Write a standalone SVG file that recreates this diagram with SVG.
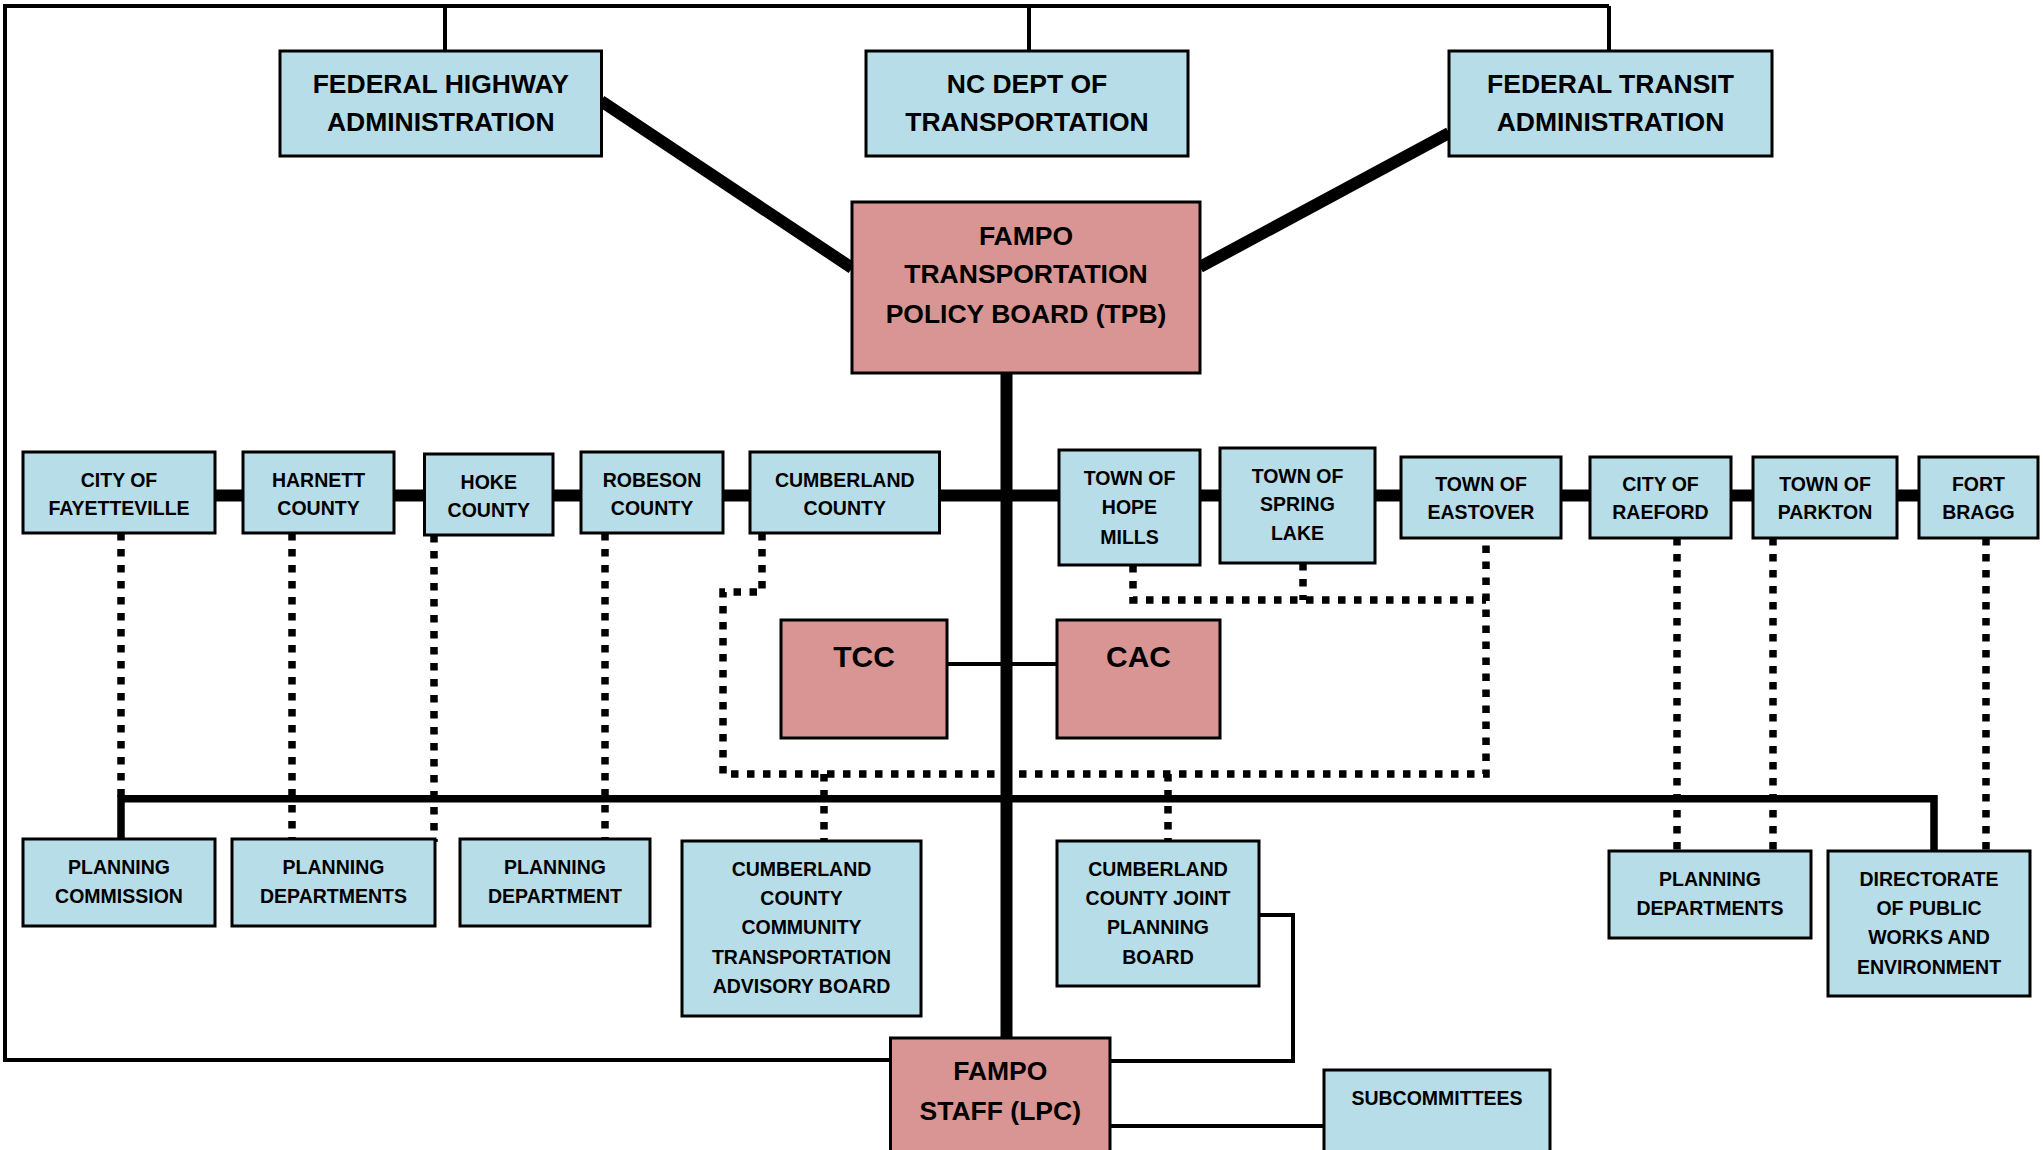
<svg xmlns="http://www.w3.org/2000/svg" width="2043" height="1150" viewBox="0 0 2043 1150">
<style>
.blue{fill:#B7DDE8;stroke:#000;stroke-width:3}
.pink{fill:#D99594;stroke:#000;stroke-width:3}
text{font-family:"Liberation Sans",Arial,sans-serif;font-weight:bold;fill:#000;text-anchor:middle}
.s{font-size:19.5px}
.b{font-size:26.5px}
.x{font-size:30px}
.thin{fill:none;stroke:#000;stroke-width:4}
.thick{fill:none;stroke:#000;stroke-width:12}
.bus{fill:none;stroke:#000;stroke-width:7.5}
.dot{fill:none;stroke:#000;stroke-width:7.5;stroke-dasharray:7.5 8.5}
</style>
<rect width="2043" height="1150" fill="#fff"/>
<g id="connectors">
<path class="thin" d="M1609 6 H5 V1060 H891"/>
<path class="thin" d="M445 6 V51 M1029 6 V51 M1609 6 V51"/>
<path class="thick" d="M601 101 L852 268 M1449 133 L1200 267"/>
<path class="thick" d="M1006.5 373 V1038"/>
<path class="thick" d="M215 495.5 H1919"/>
<path class="thin" d="M947 664 H1057"/>
<path class="bus" d="M121 839 V798.7 H1934 V852"/>
<path class="dot" d="M121 533 V799"/>
<path class="dot" d="M292 533 V839"/>
<path class="dot" d="M434 535 V842"/>
<path class="dot" d="M605 533 V842"/>
<path class="dot" d="M762 533 V592 H723 V774 H1486 V538"/>
<path class="dot" d="M1133 565 V600 H1486"/>
<path class="dot" d="M1303 563 V600"/>
<path class="dot" d="M824 774 V841"/>
<path class="dot" d="M1168 774 V841"/>
<path class="dot" d="M1677 538 V852"/>
<path class="dot" d="M1773 538 V852"/>
<path class="dot" d="M1986 538 V852"/>
<path class="thin" d="M1259 915 H1293 V1061 H1110"/>
<path class="thin" d="M1110 1126 H1324"/>
</g>
<g id="fhwa"><rect class="blue" x="280" y="51" width="321.5" height="105"/><text class="b" x="440.75" y="93">FEDERAL HIGHWAY</text><text class="b" x="440.75" y="131">ADMINISTRATION</text></g>
<g id="ncdot"><rect class="blue" x="866" y="51" width="322" height="105"/><text class="b" x="1027" y="93">NC DEPT OF</text><text class="b" x="1027" y="131">TRANSPORTATION</text></g>
<g id="fta"><rect class="blue" x="1449" y="51" width="323" height="105"/><text class="b" x="1610.5" y="93">FEDERAL TRANSIT</text><text class="b" x="1610.5" y="131">ADMINISTRATION</text></g>
<g id="tpb"><rect class="pink" x="852" y="202" width="348" height="171"/><text class="b" x="1026" y="244.5">FAMPO</text><text class="b" x="1026" y="283">TRANSPORTATION</text><text class="b" x="1026" y="323">POLICY BOARD (TPB)</text></g>
<g id="fayetteville"><rect class="blue" x="23" y="452" width="192" height="81"/><text class="s" x="119" y="487">CITY OF</text><text class="s" x="119" y="515">FAYETTEVILLE</text></g>
<g id="harnett"><rect class="blue" x="243" y="452" width="151" height="81"/><text class="s" x="318.5" y="487">HARNETT</text><text class="s" x="318.5" y="515">COUNTY</text></g>
<g id="hoke"><rect class="blue" x="424.5" y="454" width="128.5" height="81"/><text class="s" x="488.75" y="489">HOKE</text><text class="s" x="488.75" y="517">COUNTY</text></g>
<g id="robeson"><rect class="blue" x="581" y="452" width="142" height="81"/><text class="s" x="652" y="487">ROBESON</text><text class="s" x="652" y="515">COUNTY</text></g>
<g id="cumberland"><rect class="blue" x="750" y="452" width="189.5" height="81"/><text class="s" x="844.75" y="487">CUMBERLAND</text><text class="s" x="844.75" y="515">COUNTY</text></g>
<g id="hopemills"><rect class="blue" x="1059" y="450" width="141" height="115"/><text class="s" x="1129.5" y="485">TOWN OF</text><text class="s" x="1129.5" y="514">HOPE</text><text class="s" x="1129.5" y="544">MILLS</text></g>
<g id="springlake"><rect class="blue" x="1220" y="448" width="155" height="115"/><text class="s" x="1297.5" y="483">TOWN OF</text><text class="s" x="1297.5" y="511">SPRING</text><text class="s" x="1297.5" y="540">LAKE</text></g>
<g id="eastover"><rect class="blue" x="1401" y="457" width="160" height="81"/><text class="s" x="1481" y="491">TOWN OF</text><text class="s" x="1481" y="519">EASTOVER</text></g>
<g id="raeford"><rect class="blue" x="1590" y="457" width="141" height="81"/><text class="s" x="1660.5" y="491">CITY OF</text><text class="s" x="1660.5" y="519">RAEFORD</text></g>
<g id="parkton"><rect class="blue" x="1753" y="457" width="144" height="81"/><text class="s" x="1825" y="491">TOWN OF</text><text class="s" x="1825" y="519">PARKTON</text></g>
<g id="fortbragg"><rect class="blue" x="1919" y="457" width="119" height="81"/><text class="s" x="1978.5" y="491">FORT</text><text class="s" x="1978.5" y="519">BRAGG</text></g>
<g id="tcc"><rect class="pink" x="781" y="620" width="166" height="118"/><text class="x" x="864" y="667">TCC</text></g>
<g id="cac"><rect class="pink" x="1057" y="620" width="163" height="118"/><text class="x" x="1138.5" y="667">CAC</text></g>
<g id="plancomm"><rect class="blue" x="23" y="839" width="192" height="87"/><text class="s" x="119" y="874">PLANNING</text><text class="s" x="119" y="903">COMMISSION</text></g>
<g id="plandepts1"><rect class="blue" x="232" y="839" width="203" height="87"/><text class="s" x="333.5" y="874">PLANNING</text><text class="s" x="333.5" y="903">DEPARTMENTS</text></g>
<g id="plandept"><rect class="blue" x="460" y="839" width="190" height="87"/><text class="s" x="555" y="874">PLANNING</text><text class="s" x="555" y="903">DEPARTMENT</text></g>
<g id="ccctab"><rect class="blue" x="682" y="841" width="239" height="175"/><text class="s" x="801.5" y="876">CUMBERLAND</text><text class="s" x="801.5" y="905">COUNTY</text><text class="s" x="801.5" y="934">COMMUNITY</text><text class="s" x="801.5" y="964">TRANSPORTATION</text><text class="s" x="801.5" y="993">ADVISORY BOARD</text></g>
<g id="staff"><rect class="pink" x="890.5" y="1038" width="219.5" height="125"/><text class="b" x="1000.3" y="1079.5">FAMPO</text><text class="b" x="1000.3" y="1119.5">STAFF (LPC)</text></g>
<g id="jpb"><rect class="blue" x="1057" y="841" width="202" height="145"/><text class="s" x="1158" y="876">CUMBERLAND</text><text class="s" x="1158" y="905">COUNTY JOINT</text><text class="s" x="1158" y="934">PLANNING</text><text class="s" x="1158" y="964">BOARD</text></g>
<g id="plandepts2"><rect class="blue" x="1609" y="851" width="202" height="87"/><text class="s" x="1710" y="886">PLANNING</text><text class="s" x="1710" y="915">DEPARTMENTS</text></g>
<g id="directorate"><rect class="blue" x="1828" y="851" width="202" height="145"/><text class="s" x="1929" y="886">DIRECTORATE</text><text class="s" x="1929" y="915">OF PUBLIC</text><text class="s" x="1929" y="944">WORKS AND</text><text class="s" x="1929" y="974">ENVIRONMENT</text></g>
<g id="subcomm"><rect class="blue" x="1324" y="1070" width="226" height="95"/><text class="s" x="1437" y="1105">SUBCOMMITTEES</text></g>
</svg>
